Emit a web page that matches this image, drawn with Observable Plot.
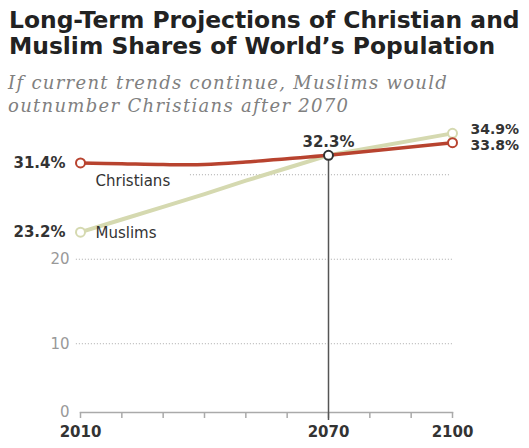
<!DOCTYPE html>
<html>
<head>
<meta charset="utf-8">
<script src="https://cdn.jsdelivr.net/npm/d3@7"></script>
<script src="https://cdn.jsdelivr.net/npm/@observablehq/plot@0.6"></script>
<style>
  html, body { margin: 0; padding: 0; background: #fff; }
  #wrap { width: 529px; height: 448px; position: relative; overflow: hidden; }
  #title { position: absolute; left: 9px; top: 7px; font-family: "DejaVu Sans", sans-serif; font-weight: 700; font-size: 23.4px; line-height: 26px; color: #222; white-space: nowrap; }
  #subtitle { position: absolute; left: 8px; top: 71px; font-family: "DejaVu Serif", Georgia, serif; font-style: italic; font-size: 18px; line-height: 23px; letter-spacing: 1.3px; color: #808080; white-space: nowrap; }
  #chart { position: absolute; left: 0; top: 118px; }
</style>
</head>
<body>
<div id="wrap">
  <div id="title">Long-Term Projections of Christian and<br>Muslim Shares of World’s Population</div>
  <div id="subtitle">If current trends continue, Muslims would<br>outnumber Christians after 2070</div>
  <div id="chart"></div>
</div>
<script>
const years = [2010, 2020, 2030, 2040, 2050, 2060, 2070, 2100];
const christians = [31.4, 31.3, 31.2, 31.2, 31.5, 31.9, 32.3, 33.8];
const muslims = [23.2, 24.7, 26.2, 27.7, 29.3, 30.8, 32.3, 34.9];
const seriesNames = ["Christians", "Muslims"];
const yGridTicks = [10, 20];
const yBaseLabel = "0";
const xTickLabels = [2010, 2070, 2100];
const decadeTicks = [2010, 2020, 2030, 2040, 2050, 2060, 2070, 2080, 2090, 2100];
const crossYear = 2070;
const crossValue = 32.3;

const red = "#b8432f";
const green = "#d5d9b0";
const font = "'DejaVu Sans', sans-serif";
const yMin = 1.86, yMax = 35;

const chrData = years.map((y, i) => ({year: y, value: christians[i]}));
const musData = years.map((y, i) => ({year: y, value: muslims[i]}));
const ends = (arr) => [arr[0], arr[arr.length - 1]];

const plot = Plot.plot({
  width: 529,
  height: 330,
  marginLeft: 80,
  marginRight: 77,
  marginTop: 14,
  marginBottom: 36,
  style: {fontFamily: font, background: "#fff", overflow: "visible"},
  x: {domain: [2010, 2100]},
  y: {domain: [yMin, yMax], axis: null},
  marks: [
    // dotted grid lines
    Plot.ruleY(yGridTicks, {x1: 2009, x2: 2100.3, stroke: "#aaa", strokeWidth: 1, strokeDasharray: "1,2"}),
    Plot.ruleY([30], {x1: 2036.6, x2: 2099.6, stroke: "#aaa", strokeWidth: 1, strokeDasharray: "1,2"}),
    // y tick labels
    Plot.text(yGridTicks, {x: 2010, y: d => d, text: d => String(d), dx: -11, textAnchor: "end", fill: "#999", fontSize: 15}),
    Plot.text([yBaseLabel], {frameAnchor: "bottom-left", text: d => d, dx: -11, textAnchor: "end", lineAnchor: "middle", fill: "#999", fontSize: 15}),
    // x axis baseline & ticks
    Plot.frame({anchor: "bottom", stroke: "#aaa", strokeWidth: 1.5}),
    Plot.axisX({ticks: decadeTicks, tickFormat: d => xTickLabels.includes(d) ? String(d) : "", tickSize: 6, tickPadding: 8, stroke: "#aaa", strokeWidth: 1.5, fill: "#333", fontSize: 15, fontWeight: 600, label: null}),
    // 2070 vertical rule
    Plot.ruleX([crossYear], {y1: crossValue, y2: yMin, stroke: "#555", strokeWidth: 1.5, insetBottom: -8}),
    // lines
    Plot.line(musData, {x: "year", y: "value", stroke: green, strokeWidth: 4, curve: "linear"}),
    Plot.line(chrData, {x: "year", y: "value", stroke: red, strokeWidth: 3.5, curve: "catmull-rom"}),
    // end markers
    Plot.dot(ends(musData), {x: "year", y: "value", r: 4.5, fill: "white", stroke: green, strokeWidth: 2}),
    Plot.dot(ends(chrData), {x: "year", y: "value", r: 4.5, fill: "white", stroke: red, strokeWidth: 2}),
    Plot.dot([{year: crossYear, value: crossValue}], {x: "year", y: "value", r: 4.5, fill: "white", stroke: "#333", strokeWidth: 2}),
    // value labels
    Plot.text([chrData[0], musData[0]], {x: "year", y: "value", text: d => d.value.toFixed(1) + "%", dx: -15, textAnchor: "end", fill: "#333", fontSize: 15, fontWeight: 700}),
    Plot.text([musData[musData.length - 1]], {x: "year", y: "value", text: d => d.value.toFixed(1) + "%", dx: 18, dy: -4, textAnchor: "start", fill: "#333", fontSize: 14, fontWeight: 700}),
    Plot.text([chrData[chrData.length - 1]], {x: "year", y: "value", text: d => d.value.toFixed(1) + "%", dx: 18, dy: 3, textAnchor: "start", fill: "#333", fontSize: 14, fontWeight: 700}),
    Plot.text([{year: crossYear, value: crossValue}], {x: "year", y: "value", text: d => d.value.toFixed(1) + "%", dy: -13, fill: "#333", fontSize: 15, fontWeight: 700}),
    // series labels
    Plot.text([{name: seriesNames[0], year: 2010, value: christians[0]}], {x: "year", y: "value", text: "name", dx: 15, dy: 18, textAnchor: "start", fill: "#333", fontSize: 15}),
    Plot.text([{name: seriesNames[1], year: 2010, value: muslims[0]}], {x: "year", y: "value", text: "name", dx: 15, dy: 1, textAnchor: "start", fill: "#333", fontSize: 15})
  ]
});
document.getElementById("chart").appendChild(plot);
</script>
</body>
</html>
